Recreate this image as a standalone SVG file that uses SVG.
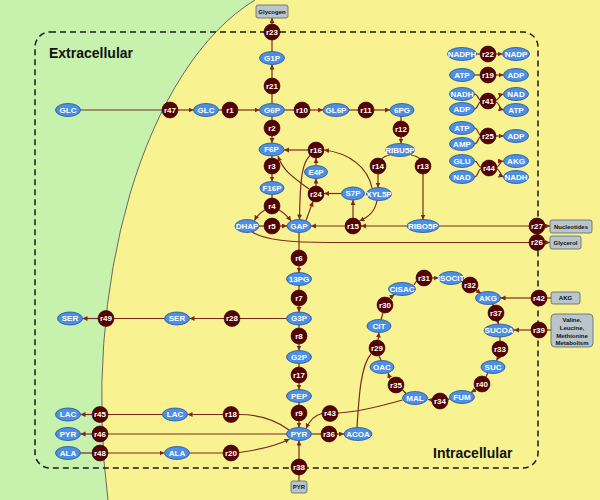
<svg xmlns="http://www.w3.org/2000/svg" width="600" height="500" viewBox="0 0 600 500">
<defs>
<marker id="ah" markerUnits="userSpaceOnUse" markerWidth="6" markerHeight="6" refX="5" refY="2.5" orient="auto"><path d="M0,0 L5,2.5 L0,5 z" fill="#7a2a1c"/></marker>
<style>
.met ellipse{fill:#4b8fe6;stroke:#1f4f9c;stroke-width:0.8}
.met text{fill:#fff;font-family:'Liberation Sans',Arial,sans-serif;font-weight:bold;font-size:8px;text-anchor:middle}
.rxn circle{fill:#540202;stroke:#2e0000;stroke-width:0.6}
.rxn text{fill:#fff;font-family:'Liberation Sans',Arial,sans-serif;font-weight:bold;font-size:8px;text-anchor:middle}
.box rect{fill:#b9c5cb;stroke:#56666d;stroke-width:0.8}
.box text{fill:#111;font-family:'Liberation Sans',Arial,sans-serif;font-weight:bold;font-size:6px;text-anchor:middle}
#edges path{fill:none;stroke:#7a2a1c;stroke-width:1.2}
#edges path.a{marker-end:url(#ah)}
.lbl{font-family:'Liberation Sans',Arial,sans-serif;font-weight:bold;font-size:14px;fill:#111}
</style>
</defs>
<rect x="0" y="0" width="600" height="500" fill="#c7f2ae"/>
<path d="M600,0 H255 A220,420 0 0 0 108,500 H600 Z" fill="#f9f290"/>
<path d="M255,0 A220,420 0 0 0 108,500" fill="none" stroke="#5a5a5a" stroke-width="0.9"/>
<rect x="35" y="32" width="503" height="436" rx="15" ry="15" fill="none" stroke="#1a1a1a" stroke-width="1.5" stroke-dasharray="6,4"/>
<text class="lbl" x="49" y="58">Extracellular</text>
<text class="lbl" x="433" y="458">Intracellular</text>

<g id="edges">
<path d="M80.5,110 H162"/>
<path class="a" d="M178,110 H193.5"/>
<path d="M218.5,110 H222"/>
<path class="a" d="M238,110 H259.5"/>
<path d="M272,103.5 V94"/>
<path class="a" d="M272,78 V64.5"/>
<path d="M272,51.5 V40"/>
<path class="a" d="M272,24 V18"/>
<path d="M284.5,110 H294"/>
<path class="a" d="M310,110 H323"/>
<path d="M349,110 H358"/>
<path class="a" d="M374,110 H390"/>
<path d="M401,116 V121"/>
<path class="a" d="M401,137 V143.5"/>
<path d="M390,155 Q384,156 382,159"/>
<path class="a" d="M378,174 V187.5"/>
<path d="M411,155 Q417,156 420,159"/>
<path class="a" d="M423,174 V219.5"/>
<path d="M272,116.5 V120"/>
<path class="a" d="M272,136 V143"/>
<path d="M272,156 V158"/>
<path class="a" d="M272,174 V181.5"/>
<path d="M272,194.5 V198"/>
<path class="a" d="M265,210 Q258,214 254.5,220.5"/>
<path class="a" d="M279,210 Q286,214 291,221"/>
<path d="M259,226 H264"/>
<path class="a" d="M280,226 H287"/>
<path d="M299,232.5 V250"/>
<path class="a" d="M299,266 V272.5"/>
<path d="M299,285.5 V290"/>
<path class="a" d="M299,306 V312"/>
<path d="M299,325 V328"/>
<path class="a" d="M299,344 V350.5"/>
<path d="M299,363.5 V367"/>
<path class="a" d="M299,383 V389.5"/>
<path d="M299,402.5 V405"/>
<path class="a" d="M299,421 V427.5"/>
<path d="M286.5,318.5 H240"/>
<path class="a" d="M224,318.5 H189.5"/>
<path d="M164.5,318.5 H114"/>
<path class="a" d="M98,318.5 H82.5"/>
<path d="M289,430 C276,420 258,414.5 239,414.5"/>
<path class="a" d="M223,414.5 H187.5"/>
<path d="M162.5,414.5 H108"/>
<path class="a" d="M92,414.5 H80.5"/>
<path d="M286.5,434 H108"/>
<path class="a" d="M92,434 H80.5"/>
<path d="M80.5,453 H92"/>
<path class="a" d="M108,453 H164.5"/>
<path d="M189.5,453 H223"/>
<path class="a" d="M239,452.5 C258,450 276,446 289.5,439"/>
<path d="M311.5,434 H321"/>
<path class="a" d="M337,434 H344"/>
<path d="M357,427.5 C359,395 361,365 371,354"/>
<path d="M381,360.5 L379,356"/>
<path class="a" d="M378,340 L379,332.5"/>
<path d="M381,319.5 L383,313"/>
<path class="a" d="M389.5,298 L394.5,294.5"/>
<path d="M414,285 L416.5,281"/>
<path class="a" d="M432,278 H438.5"/>
<path d="M461,281 L464,283"/>
<path class="a" d="M476,290 L481,293.5"/>
<path d="M492,304 L494,305.5"/>
<path class="a" d="M497.5,321 L498.5,324"/>
<path d="M500,337 V341"/>
<path class="a" d="M498.5,357 L496.5,360.5"/>
<path d="M488,372.5 L486,377"/>
<path class="a" d="M476,389.5 L471,392.5"/>
<path d="M449.5,398.5 L448,400"/>
<path class="a" d="M432,400 L428,399.5"/>
<path d="M406,393.5 L402.5,390"/>
<path class="a" d="M390,378.5 L388,373"/>
<path d="M402.5,400 C385,405 360,412 338,413"/>
<path class="a" d="M322,413.5 C315,415 310,420 306,428.5"/>
<path d="M299,481 V475"/>
<path class="a" d="M299,459 V440.5"/>
<path d="M551,298 H547"/>
<path class="a" d="M531,298 H500.5"/>
<path d="M551,330 H547"/>
<path class="a" d="M531,330 H514"/>
<path class="a" d="M407,226 H361"/>
<path class="a" d="M345,226 H311"/>
<path class="a" d="M353,218 V200"/>
<path class="a" d="M377,200.5 C375,212 368,217 359.5,221"/>
<path class="a" d="M341.5,193.5 H324"/>
<path class="a" d="M306,220.5 C309,212 311,207 313,201.5"/>
<path class="a" d="M316,186 V178.5"/>
<path class="a" d="M316,165.5 V158"/>
<path class="a" d="M308,150 H284"/>
<path class="a" d="M372,188 C368,168 350,153 324,150"/>
<path class="a" d="M310,155.5 C303,162 300,175 299.5,219.5"/>
<path class="a" d="M309,189 C296,179 283,172 278,156"/>
<path d="M252,232 C265,240 290,242.5 330,242.5 H529"/>
<path class="a" d="M545,242.5 H550"/>
<path d="M439,226 H529"/>
<path class="a" d="M545,226 H550"/>
<path d="M476,54 H480"/>
<path class="a" d="M496,54 H502.5"/>
<path d="M474.5,75 H480"/>
<path class="a" d="M496,75 H503.5"/>
<path d="M474.5,94 C478,94 478,100 480.5,100"/>
<path d="M474.5,109 C478,109 478,102 480.5,102"/>
<path class="a" d="M496,100 C499,100 499,95 503.5,94"/>
<path class="a" d="M496,102 C499,102 499,109 503.5,110"/>
<path d="M474.5,128 C478,128 478,135 480.5,135"/>
<path d="M474.5,144 C478,144 478,137 480.5,137"/>
<path class="a" d="M496,136 H503.5"/>
<path d="M474.5,161 C478,161 478,167 481,167"/>
<path d="M474.5,177 C478,177 478,169 481,169"/>
<path class="a" d="M497,167 C500,166 500,161 503,161"/>
<path class="a" d="M497,169 C500,170 501,176 503.5,177"/>
</g>

<g id="b-Glycogen" class="box"><rect x="256" y="5" width="32" height="13" rx="2"/><text x="272" y="13.5">Glycogen</text></g>
<g id="b-PYR" class="box"><rect x="291" y="481" width="16" height="12" rx="2"/><text x="299" y="489">PYR</text></g>
<g id="b-Nucleotides" class="box"><rect x="550" y="220" width="42" height="13" rx="2"/><text x="571" y="228.5">Nucleotides</text></g>
<g id="b-Glycerol" class="box"><rect x="550" y="236" width="31" height="13" rx="2"/><text x="565.5" y="244.5">Glycerol</text></g>
<g id="b-AKG" class="box"><rect x="551" y="292" width="29" height="12" rx="2"/><text x="565.5" y="300">AKG</text></g>
<g id="b-VLM" class="box"><rect x="551" y="314" width="42" height="33" rx="4"/><text x="572" y="321.5">Valine,</text><text x="572" y="329.5">Leucine,</text><text x="572" y="337.5">Methionine</text><text x="572" y="345">Metabolism</text></g>

<g id="m-GLC-e" class="met"><ellipse cx="68" cy="110" rx="12.5" ry="6.5"/><text x="68" y="112.9">GLC</text></g>
<g id="m-GLC" class="met"><ellipse cx="206" cy="110" rx="12.5" ry="6.5"/><text x="206" y="112.9">GLC</text></g>
<g id="m-G6P" class="met"><ellipse cx="272" cy="110" rx="12.5" ry="6.5"/><text x="272" y="112.9">G6P</text></g>
<g id="m-G1P" class="met"><ellipse cx="272" cy="58" rx="12.5" ry="6.5"/><text x="272" y="60.9">G1P</text></g>
<g id="m-GL6P" class="met"><ellipse cx="336" cy="110" rx="13" ry="6.5"/><text x="336" y="112.9">GL6P</text></g>
<g id="m-6PG" class="met"><ellipse cx="402" cy="110" rx="12" ry="6.5"/><text x="402" y="112.9">6PG</text></g>
<g id="m-F6P" class="met"><ellipse cx="271.5" cy="149.5" rx="12.5" ry="6.5"/><text x="271.5" y="152.4">F6P</text></g>
<g id="m-RIBU5P" class="met"><ellipse cx="400" cy="150" rx="14.5" ry="6.5"/><text x="400" y="152.9">RIBU5P</text></g>
<g id="m-E4P" class="met"><ellipse cx="316" cy="172" rx="11.5" ry="6.5"/><text x="316" y="174.9">E4P</text></g>
<g id="m-F16P" class="met"><ellipse cx="272" cy="188" rx="12" ry="6.5"/><text x="272" y="190.9">F16P</text></g>
<g id="m-S7P" class="met"><ellipse cx="353" cy="193.5" rx="11.5" ry="6.5"/><text x="353" y="196.4">S7P</text></g>
<g id="m-XYL5P" class="met"><ellipse cx="379" cy="194" rx="12.5" ry="6.5"/><text x="379" y="196.9">XYL5P</text></g>
<g id="m-DHAP" class="met"><ellipse cx="247" cy="226" rx="12" ry="6.5"/><text x="247" y="228.9">DHAP</text></g>
<g id="m-GAP" class="met"><ellipse cx="299" cy="226" rx="12" ry="6.5"/><text x="299" y="228.9">GAP</text></g>
<g id="m-RIBO5P" class="met"><ellipse cx="423" cy="226" rx="16" ry="6.5"/><text x="423" y="228.9">RIBO5P</text></g>
<g id="m-13PG" class="met"><ellipse cx="299" cy="279" rx="12.5" ry="6.5"/><text x="299" y="281.9">13PG</text></g>
<g id="m-SER-e" class="met"><ellipse cx="70" cy="318.5" rx="12.5" ry="6.5"/><text x="70" y="321.4">SER</text></g>
<g id="m-SER" class="met"><ellipse cx="177" cy="318.5" rx="12.5" ry="6.5"/><text x="177" y="321.4">SER</text></g>
<g id="m-G3P" class="met"><ellipse cx="299" cy="318.5" rx="12.5" ry="6.5"/><text x="299" y="321.4">G3P</text></g>
<g id="m-G2P" class="met"><ellipse cx="299" cy="357" rx="12.5" ry="6.5"/><text x="299" y="359.9">G2P</text></g>
<g id="m-PEP" class="met"><ellipse cx="299" cy="396" rx="12.5" ry="6.5"/><text x="299" y="398.9">PEP</text></g>
<g id="m-PYR" class="met"><ellipse cx="299" cy="434" rx="12.5" ry="6.5"/><text x="299" y="436.9">PYR</text></g>
<g id="m-ACOA" class="met"><ellipse cx="358" cy="434" rx="14" ry="6.5"/><text x="358" y="436.9">ACOA</text></g>
<g id="m-LAC-e" class="met"><ellipse cx="68" cy="414.5" rx="12.5" ry="6.5"/><text x="68" y="417.4">LAC</text></g>
<g id="m-LAC" class="met"><ellipse cx="175" cy="414.5" rx="12.5" ry="6.5"/><text x="175" y="417.4">LAC</text></g>
<g id="m-PYR-e" class="met"><ellipse cx="68" cy="434" rx="12.5" ry="6.5"/><text x="68" y="436.9">PYR</text></g>
<g id="m-ALA-e" class="met"><ellipse cx="68" cy="453" rx="12.5" ry="6.5"/><text x="68" y="455.9">ALA</text></g>
<g id="m-ALA" class="met"><ellipse cx="177" cy="453" rx="12.5" ry="6.5"/><text x="177" y="455.9">ALA</text></g>
<g id="m-CIT" class="met"><ellipse cx="379" cy="326" rx="12" ry="6.5"/><text x="379" y="328.9">CIT</text></g>
<g id="m-CISAC" class="met"><ellipse cx="402" cy="289" rx="13.5" ry="6.5"/><text x="402" y="291.9">CISAC</text></g>
<g id="m-ISOCIT" class="met"><ellipse cx="451" cy="278" rx="12.5" ry="6.5"/><text x="451" y="280.9">ISOCIT</text></g>
<g id="m-AKG" class="met"><ellipse cx="488" cy="298" rx="12.5" ry="6.5"/><text x="488" y="300.9">AKG</text></g>
<g id="m-SUCOA" class="met"><ellipse cx="499" cy="330.5" rx="15" ry="6.5"/><text x="499" y="333.4">SUCOA</text></g>
<g id="m-SUC" class="met"><ellipse cx="493" cy="367" rx="12" ry="6.5"/><text x="493" y="369.9">SUC</text></g>
<g id="m-FUM" class="met"><ellipse cx="462" cy="397" rx="12.5" ry="6.5"/><text x="462" y="399.9">FUM</text></g>
<g id="m-MAL" class="met"><ellipse cx="415" cy="398" rx="12.5" ry="6.5"/><text x="415" y="400.9">MAL</text></g>
<g id="m-OAC" class="met"><ellipse cx="382" cy="367" rx="12" ry="6.5"/><text x="382" y="369.9">OAC</text></g>
<g id="m-NADPH" class="met"><ellipse cx="462" cy="54" rx="14.5" ry="6.5"/><text x="462" y="56.9">NADPH</text></g>
<g id="m-NADP" class="met"><ellipse cx="516" cy="54" rx="13.5" ry="6.5"/><text x="516" y="56.9">NADP</text></g>
<g id="m-ATP-1" class="met"><ellipse cx="462" cy="75" rx="12.5" ry="6.5"/><text x="462" y="77.9">ATP</text></g>
<g id="m-ADP-1" class="met"><ellipse cx="516" cy="75" rx="12.5" ry="6.5"/><text x="516" y="77.9">ADP</text></g>
<g id="m-NADH-1" class="met"><ellipse cx="462" cy="94" rx="12.5" ry="6.5"/><text x="462" y="96.9">NADH</text></g>
<g id="m-ADP-2" class="met"><ellipse cx="462" cy="109" rx="12.5" ry="6.5"/><text x="462" y="111.9">ADP</text></g>
<g id="m-NAD-1" class="met"><ellipse cx="516" cy="94" rx="12.5" ry="6.5"/><text x="516" y="96.9">NAD</text></g>
<g id="m-ATP-2" class="met"><ellipse cx="516" cy="110" rx="12.5" ry="6.5"/><text x="516" y="112.9">ATP</text></g>
<g id="m-ATP-3" class="met"><ellipse cx="462" cy="128" rx="12.5" ry="6.5"/><text x="462" y="130.9">ATP</text></g>
<g id="m-AMP" class="met"><ellipse cx="462" cy="144" rx="12.5" ry="6.5"/><text x="462" y="146.9">AMP</text></g>
<g id="m-ADP-3" class="met"><ellipse cx="516" cy="136" rx="12.5" ry="6.5"/><text x="516" y="138.9">ADP</text></g>
<g id="m-GLU" class="met"><ellipse cx="462" cy="161" rx="12.5" ry="6.5"/><text x="462" y="163.9">GLU</text></g>
<g id="m-NAD-2" class="met"><ellipse cx="462" cy="177" rx="12.5" ry="6.5"/><text x="462" y="179.9">NAD</text></g>
<g id="m-AKG-2" class="met"><ellipse cx="516" cy="161" rx="12.5" ry="6.5"/><text x="516" y="163.9">AKG</text></g>
<g id="m-NADH-2" class="met"><ellipse cx="516" cy="177" rx="12.5" ry="6.5"/><text x="516" y="179.9">NADH</text></g>

<g id="r47" class="rxn"><circle cx="170" cy="110" r="8"/><text x="170" y="112.9">r47</text></g>
<g id="r1" class="rxn"><circle cx="230" cy="110" r="8"/><text x="230" y="112.9">r1</text></g>
<g id="r10" class="rxn"><circle cx="302" cy="110" r="8"/><text x="302" y="112.9">r10</text></g>
<g id="r11" class="rxn"><circle cx="366" cy="110" r="8"/><text x="366" y="112.9">r11</text></g>
<g id="r21" class="rxn"><circle cx="272" cy="86" r="8"/><text x="272" y="88.9">r21</text></g>
<g id="r23" class="rxn"><circle cx="272" cy="32" r="8"/><text x="272" y="34.9">r23</text></g>
<g id="r2" class="rxn"><circle cx="272" cy="128" r="8"/><text x="272" y="130.9">r2</text></g>
<g id="r3" class="rxn"><circle cx="272" cy="166" r="8"/><text x="272" y="168.9">r3</text></g>
<g id="r4" class="rxn"><circle cx="272" cy="206" r="8"/><text x="272" y="208.9">r4</text></g>
<g id="r5" class="rxn"><circle cx="272" cy="226" r="8"/><text x="272" y="228.9">r5</text></g>
<g id="r16" class="rxn"><circle cx="316" cy="150" r="8"/><text x="316" y="152.9">r16</text></g>
<g id="r24" class="rxn"><circle cx="316" cy="194" r="8"/><text x="316" y="196.9">r24</text></g>
<g id="r12" class="rxn"><circle cx="401" cy="129" r="8"/><text x="401" y="131.9">r12</text></g>
<g id="r14" class="rxn"><circle cx="378" cy="166" r="8"/><text x="378" y="168.9">r14</text></g>
<g id="r13" class="rxn"><circle cx="423" cy="166" r="8"/><text x="423" y="168.9">r13</text></g>
<g id="r15" class="rxn"><circle cx="353" cy="226" r="8"/><text x="353" y="228.9">r15</text></g>
<g id="r6" class="rxn"><circle cx="299" cy="258" r="8"/><text x="299" y="260.9">r6</text></g>
<g id="r7" class="rxn"><circle cx="299" cy="298" r="8"/><text x="299" y="300.9">r7</text></g>
<g id="r8" class="rxn"><circle cx="299" cy="336" r="8"/><text x="299" y="338.9">r8</text></g>
<g id="r17" class="rxn"><circle cx="299" cy="375" r="8"/><text x="299" y="377.9">r17</text></g>
<g id="r9" class="rxn"><circle cx="299" cy="413" r="8"/><text x="299" y="415.9">r9</text></g>
<g id="r28" class="rxn"><circle cx="232" cy="318.5" r="8"/><text x="232" y="321.4">r28</text></g>
<g id="r49" class="rxn"><circle cx="106" cy="318.5" r="8"/><text x="106" y="321.4">r49</text></g>
<g id="r18" class="rxn"><circle cx="231" cy="414.5" r="8"/><text x="231" y="417.4">r18</text></g>
<g id="r20" class="rxn"><circle cx="231" cy="453" r="8"/><text x="231" y="455.9">r20</text></g>
<g id="r45" class="rxn"><circle cx="100" cy="414.5" r="8"/><text x="100" y="417.4">r45</text></g>
<g id="r46" class="rxn"><circle cx="100" cy="434" r="8"/><text x="100" y="436.9">r46</text></g>
<g id="r48" class="rxn"><circle cx="100" cy="453" r="8"/><text x="100" y="455.9">r48</text></g>
<g id="r36" class="rxn"><circle cx="329" cy="434" r="8"/><text x="329" y="436.9">r36</text></g>
<g id="r43" class="rxn"><circle cx="330" cy="413.5" r="8"/><text x="330" y="416.4">r43</text></g>
<g id="r38" class="rxn"><circle cx="299" cy="467" r="8"/><text x="299" y="469.9">r38</text></g>
<g id="r29" class="rxn"><circle cx="377" cy="348" r="8"/><text x="377" y="350.9">r29</text></g>
<g id="r30" class="rxn"><circle cx="385" cy="305" r="8"/><text x="385" y="307.9">r30</text></g>
<g id="r31" class="rxn"><circle cx="424" cy="278" r="8"/><text x="424" y="280.9">r31</text></g>
<g id="r32" class="rxn"><circle cx="470" cy="285" r="8"/><text x="470" y="287.9">r32</text></g>
<g id="r37" class="rxn"><circle cx="496" cy="313" r="8"/><text x="496" y="315.9">r37</text></g>
<g id="r33" class="rxn"><circle cx="500" cy="349" r="8"/><text x="500" y="351.9">r33</text></g>
<g id="r40" class="rxn"><circle cx="482" cy="384" r="8"/><text x="482" y="386.9">r40</text></g>
<g id="r34" class="rxn"><circle cx="440" cy="401" r="8"/><text x="440" y="403.9">r34</text></g>
<g id="r35" class="rxn"><circle cx="396" cy="385" r="8"/><text x="396" y="387.9">r35</text></g>
<g id="r27" class="rxn"><circle cx="537" cy="226" r="8"/><text x="537" y="228.9">r27</text></g>
<g id="r26" class="rxn"><circle cx="537" cy="242.5" r="8"/><text x="537" y="245.4">r26</text></g>
<g id="r42" class="rxn"><circle cx="539" cy="298" r="8"/><text x="539" y="300.9">r42</text></g>
<g id="r39" class="rxn"><circle cx="539" cy="330" r="8"/><text x="539" y="332.9">r39</text></g>
<g id="r22" class="rxn"><circle cx="488" cy="54" r="8"/><text x="488" y="56.9">r22</text></g>
<g id="r19" class="rxn"><circle cx="488" cy="75" r="8"/><text x="488" y="77.9">r19</text></g>
<g id="r41" class="rxn"><circle cx="488" cy="101" r="8"/><text x="488" y="103.9">r41</text></g>
<g id="r25" class="rxn"><circle cx="488" cy="136" r="8"/><text x="488" y="138.9">r25</text></g>
<g id="r44" class="rxn"><circle cx="489" cy="168" r="8"/><text x="489" y="170.9">r44</text></g>
</svg>
